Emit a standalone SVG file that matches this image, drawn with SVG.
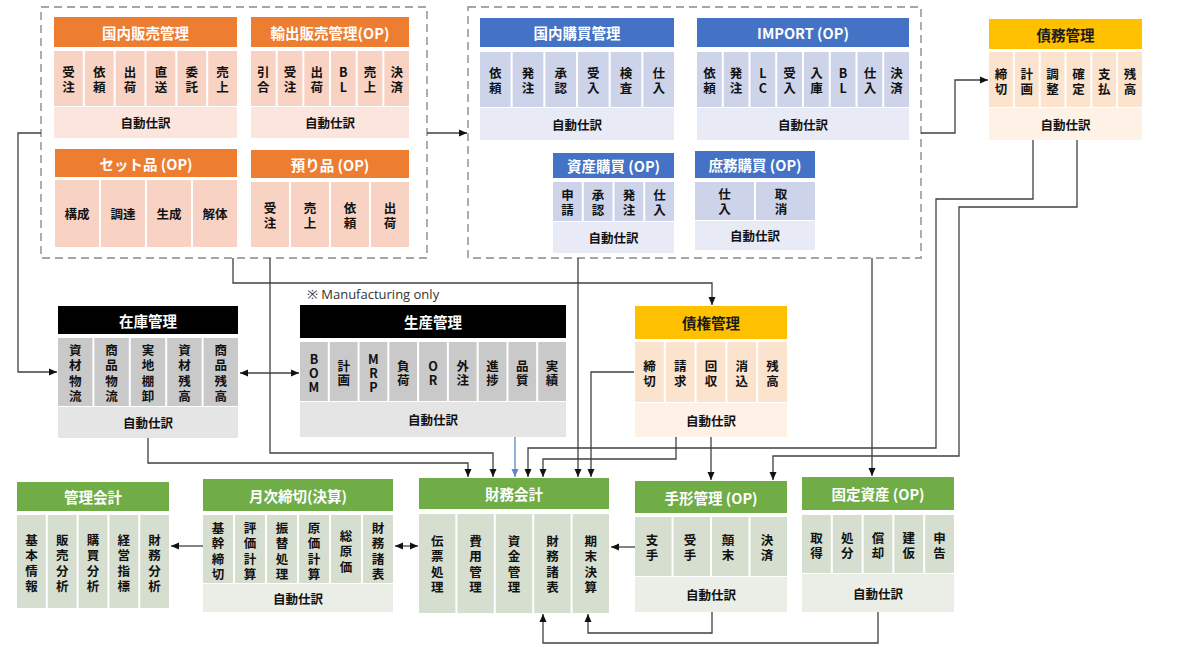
<svg xmlns="http://www.w3.org/2000/svg" width="1180" height="651" viewBox="0 0 1180 651">
<style>
.t{font-family:"Noto Sans CJK JP","Noto Sans",sans-serif;font-weight:700;text-anchor:middle;dominant-baseline:central}
.h{font-size:14.5px;fill:#fff}
.hd{font-size:14.5px;fill:#1a1a1a}
.c{font-size:12.5px;fill:#111}
.a{font-size:12.5px;fill:#111}
.ho{fill:#ED7D31}.co{fill:#F8D3C4}.ao{fill:#FBE5DC}
.hb{fill:#4472C4}.cb{fill:#CDD4EA}.ab{fill:#E8EBF5}
.hy{fill:#FFC000}.cy{fill:#FCE3CD}.ay{fill:#FEF2E6}
.hk{fill:#000}.ck{fill:#C9C9C9}.ak{fill:#E5E5E5}
.hg{fill:#70AD47}.cg{fill:#D6DECF}.ag{fill:#EAEEE6}
.ln{fill:none;stroke:#404040;stroke-width:1.3}
.dash{fill:none;stroke:#A6A6A6;stroke-width:1.8;stroke-dasharray:8 5}
</style>
<defs>
<marker id="ar" markerUnits="userSpaceOnUse" markerWidth="8" markerHeight="8" refX="8" refY="4" orient="auto-start-reverse"><path d="M0,0.5 L8,4 L0,7.5 z" fill="#111"/></marker>
<marker id="arb" markerUnits="userSpaceOnUse" markerWidth="8" markerHeight="8" refX="8" refY="4" orient="auto"><path d="M0,0.5 L8,4 L0,7.5 z" fill="#5B87C8"/></marker>
</defs>
<rect width="1180" height="651" fill="#fff"/>

<rect class="dash" x="41" y="7" width="386" height="251"/>
<rect class="dash" x="468" y="7" width="453" height="251"/>

<g id="connectors">
<path class="ln" d="M427,133 H467" marker-end="url(#ar)"/>
<path class="ln" d="M921,133 H955 V80 H988" marker-end="url(#ar)"/>
<path class="ln" d="M41,133 H18 V372 H57" marker-end="url(#ar)"/>
<path class="ln" d="M240,373 H299" marker-start="url(#ar)" marker-end="url(#ar)"/>
<path class="ln" d="M233,258 V283 H712 V305" marker-end="url(#ar)"/>
<path class="ln" d="M270,258 V453 H493 V477" marker-end="url(#ar)"/>
<path class="ln" d="M148,438 V463 H468 V477" marker-end="url(#ar)"/>
<path d="M515,437 V477" fill="none" stroke="#5B87C8" stroke-width="1.3" marker-end="url(#arb)"/>
<path class="ln" d="M578,258 V477" marker-end="url(#ar)"/>
<path class="ln" d="M634,372 H591 V477" marker-end="url(#ar)"/>
<path class="ln" d="M676,437 V459 H543 V477" marker-end="url(#ar)"/>
<path class="ln" d="M711,437 V480" marker-end="url(#ar)"/>
<path class="ln" d="M1033,140 V199 H936 V448 H528 V477" marker-end="url(#ar)"/>
<path class="ln" d="M1077,140 V207 H959 V456 H773 V480" marker-end="url(#ar)"/>
<path class="ln" d="M872,258 V476" marker-end="url(#ar)"/>
<path class="ln" d="M203,546 H171" marker-end="url(#ar)"/>
<path class="ln" d="M395,546 H418" marker-start="url(#ar)" marker-end="url(#ar)"/>
<path class="ln" d="M635,547 H611" marker-end="url(#ar)"/>
<path class="ln" d="M712,612 V633 H588 V614" marker-end="url(#ar)"/>
<path class="ln" d="M878,612 V643 H543 V614" marker-end="url(#ar)"/>
</g>

<g id="domestic-sales">
<rect class="ho" x="54" y="17" width="183" height="30"/>
<text class="t h" x="145.5" y="32">国内販売管理</text>
<rect class="co" x="54" y="51" width="28.83" height="55"/><rect class="co" x="84.83" y="51" width="28.83" height="55"/><rect class="co" x="115.67" y="51" width="28.83" height="55"/><rect class="co" x="146.5" y="51" width="28.83" height="55"/><rect class="co" x="177.33" y="51" width="28.83" height="55"/><rect class="co" x="208.17" y="51" width="28.83" height="55"/>
<text class="t c"><tspan x="68.4" y="71">受</tspan><tspan x="68.4" y="86">注</tspan></text>
<text class="t c"><tspan x="99.25" y="71">依</tspan><tspan x="99.25" y="86">頼</tspan></text>
<text class="t c"><tspan x="130.1" y="71">出</tspan><tspan x="130.1" y="86">荷</tspan></text>
<text class="t c"><tspan x="160.9" y="71">直</tspan><tspan x="160.9" y="86">送</tspan></text>
<text class="t c"><tspan x="191.75" y="71">委</tspan><tspan x="191.75" y="86">託</tspan></text>
<text class="t c"><tspan x="222.6" y="71">売</tspan><tspan x="222.6" y="86">上</tspan></text>
<rect class="ao" x="54" y="107" width="183" height="31"/>
<text class="t a" x="145.5" y="122.5">自動仕訳</text>
</g>

<g id="export-sales">
<rect class="ho" x="251" y="17" width="158" height="30"/>
<text class="t h" x="330" y="32">輸出販売管理(OP)</text>
<rect class="co" x="251" y="51" width="24.67" height="55"/><rect class="co" x="277.67" y="51" width="24.67" height="55"/><rect class="co" x="304.33" y="51" width="24.67" height="55"/><rect class="co" x="331" y="51" width="24.67" height="55"/><rect class="co" x="357.67" y="51" width="24.67" height="55"/><rect class="co" x="384.33" y="51" width="24.67" height="55"/>
<text class="t c"><tspan x="263.3" y="71">引</tspan><tspan x="263.3" y="86">合</tspan></text>
<text class="t c"><tspan x="290" y="71">受</tspan><tspan x="290" y="86">注</tspan></text>
<text class="t c"><tspan x="316.7" y="71">出</tspan><tspan x="316.7" y="86">荷</tspan></text>
<text class="t c"><tspan x="343.3" y="71">B</tspan><tspan x="343.3" y="86">L</tspan></text>
<text class="t c"><tspan x="370" y="71">売</tspan><tspan x="370" y="86">上</tspan></text>
<text class="t c"><tspan x="396.7" y="71">決</tspan><tspan x="396.7" y="86">済</tspan></text>
<rect class="ao" x="251" y="107" width="158" height="31"/>
<text class="t a" x="330" y="122.5">自動仕訳</text>
</g>

<g id="set-items">
<rect class="ho" x="55" y="149" width="182" height="28"/>
<text class="t h" x="146" y="163">セット品 (OP)</text>
<rect class="co" x="55" y="180" width="44" height="67"/><rect class="co" x="101" y="180" width="44" height="67"/><rect class="co" x="147" y="180" width="44" height="67"/><rect class="co" x="193" y="180" width="44" height="67"/>
<text class="t c" x="77" y="213.5">構成</text>
<text class="t c" x="123" y="213.5">調達</text>
<text class="t c" x="169" y="213.5">生成</text>
<text class="t c" x="215" y="213.5">解体</text>
</g>

<g id="consignment">
<rect class="ho" x="251" y="150" width="158" height="28"/>
<text class="t h" x="330" y="164">預り品 (OP)</text>
<rect class="co" x="251" y="182" width="38" height="65"/><rect class="co" x="291" y="182" width="38" height="65"/><rect class="co" x="331" y="182" width="38" height="65"/><rect class="co" x="371" y="182" width="38" height="65"/>
<text class="t c"><tspan x="270" y="207">受</tspan><tspan x="270" y="222">注</tspan></text>
<text class="t c"><tspan x="310" y="207">売</tspan><tspan x="310" y="222">上</tspan></text>
<text class="t c"><tspan x="350" y="207">依</tspan><tspan x="350" y="222">頼</tspan></text>
<text class="t c"><tspan x="390" y="207">出</tspan><tspan x="390" y="222">荷</tspan></text>
</g>

<g id="domestic-purchase">
<rect class="hb" x="480" y="18" width="194" height="29"/>
<text class="t h" x="577" y="32.5">国内購買管理</text>
<rect class="cb" x="480" y="52" width="30.67" height="55"/><rect class="cb" x="512.67" y="52" width="30.67" height="55"/><rect class="cb" x="545.33" y="52" width="30.67" height="55"/><rect class="cb" x="578" y="52" width="30.67" height="55"/><rect class="cb" x="610.67" y="52" width="30.67" height="55"/><rect class="cb" x="643.33" y="52" width="30.67" height="55"/>
<text class="t c"><tspan x="495.3" y="72">依</tspan><tspan x="495.3" y="87">頼</tspan></text>
<text class="t c"><tspan x="528" y="72">発</tspan><tspan x="528" y="87">注</tspan></text>
<text class="t c"><tspan x="560.7" y="72">承</tspan><tspan x="560.7" y="87">認</tspan></text>
<text class="t c"><tspan x="593.3" y="72">受</tspan><tspan x="593.3" y="87">入</tspan></text>
<text class="t c"><tspan x="626" y="72">検</tspan><tspan x="626" y="87">査</tspan></text>
<text class="t c"><tspan x="658.7" y="72">仕</tspan><tspan x="658.7" y="87">入</tspan></text>
<rect class="ab" x="480" y="108" width="194" height="32"/>
<text class="t a" x="577" y="124">自動仕訳</text>
</g>

<g id="import">
<rect class="hb" x="697" y="18" width="212" height="29"/>
<text class="t h" x="803" y="32.5">IMPORT (OP)</text>
<rect class="cb" x="697" y="52" width="24.75" height="55"/><rect class="cb" x="723.75" y="52" width="24.75" height="55"/><rect class="cb" x="750.5" y="52" width="24.75" height="55"/><rect class="cb" x="777.25" y="52" width="24.75" height="55"/><rect class="cb" x="804" y="52" width="24.75" height="55"/><rect class="cb" x="830.75" y="52" width="24.75" height="55"/><rect class="cb" x="857.5" y="52" width="24.75" height="55"/><rect class="cb" x="884.25" y="52" width="24.75" height="55"/>
<text class="t c"><tspan x="709.4" y="72">依</tspan><tspan x="709.4" y="87">頼</tspan></text>
<text class="t c"><tspan x="736.1" y="72">発</tspan><tspan x="736.1" y="87">注</tspan></text>
<text class="t c"><tspan x="762.9" y="72">L</tspan><tspan x="762.9" y="87">C</tspan></text>
<text class="t c"><tspan x="789.6" y="72">受</tspan><tspan x="789.6" y="87">入</tspan></text>
<text class="t c"><tspan x="816.4" y="72">入</tspan><tspan x="816.4" y="87">庫</tspan></text>
<text class="t c"><tspan x="843.1" y="72">B</tspan><tspan x="843.1" y="87">L</tspan></text>
<text class="t c"><tspan x="869.9" y="72">仕</tspan><tspan x="869.9" y="87">入</tspan></text>
<text class="t c"><tspan x="896.6" y="72">決</tspan><tspan x="896.6" y="87">済</tspan></text>
<rect class="ab" x="697" y="108" width="212" height="32"/>
<text class="t a" x="803" y="124">自動仕訳</text>
</g>

<g id="asset-purchase">
<rect class="hb" x="553" y="153" width="121" height="25"/>
<text class="t h" x="613.5" y="165.5">資産購買 (OP)</text>
<rect class="cb" x="553" y="182" width="28.75" height="39"/><rect class="cb" x="583.75" y="182" width="28.75" height="39"/><rect class="cb" x="614.5" y="182" width="28.75" height="39"/><rect class="cb" x="645.25" y="182" width="28.75" height="39"/>
<text class="t c"><tspan x="567.4" y="193.5">申</tspan><tspan x="567.4" y="208.5">請</tspan></text>
<text class="t c"><tspan x="598.1" y="193.5">承</tspan><tspan x="598.1" y="208.5">認</tspan></text>
<text class="t c"><tspan x="628.9" y="193.5">発</tspan><tspan x="628.9" y="208.5">注</tspan></text>
<text class="t c"><tspan x="659.6" y="193.5">仕</tspan><tspan x="659.6" y="208.5">入</tspan></text>
<rect class="ab" x="553" y="222" width="121" height="31"/>
<text class="t a" x="613.5" y="237.5">自動仕訳</text>
</g>

<g id="general-purchase">
<rect class="hb" x="695" y="151" width="120" height="27"/>
<text class="t h" x="755" y="164.5">庶務購買 (OP)</text>
<rect class="cb" x="695" y="182" width="59" height="38"/><rect class="cb" x="756" y="182" width="59" height="38"/>
<text class="t c"><tspan x="724.5" y="192.5">仕</tspan><tspan x="724.5" y="207.5">入</tspan></text>
<text class="t c"><tspan x="781" y="192.5">取</tspan><tspan x="781" y="207.5">消</tspan></text>
<rect class="ab" x="695" y="221" width="120" height="29"/>
<text class="t a" x="755" y="235.5">自動仕訳</text>
</g>

<g id="payables">
<rect class="hy" x="989" y="19" width="153" height="30"/>
<text class="t hd" x="1065.5" y="34">債務管理</text>
<rect class="cy" x="989" y="52" width="23.83" height="55"/><rect class="cy" x="1014.83" y="52" width="23.83" height="55"/><rect class="cy" x="1040.67" y="52" width="23.83" height="55"/><rect class="cy" x="1066.5" y="52" width="23.83" height="55"/><rect class="cy" x="1092.33" y="52" width="23.83" height="55"/><rect class="cy" x="1118.17" y="52" width="23.83" height="55"/>
<text class="t c"><tspan x="1000.9" y="72.5">締</tspan><tspan x="1000.9" y="87.5">切</tspan></text>
<text class="t c"><tspan x="1026.75" y="72.5">計</tspan><tspan x="1026.75" y="87.5">画</tspan></text>
<text class="t c"><tspan x="1052.6" y="72.5">調</tspan><tspan x="1052.6" y="87.5">整</tspan></text>
<text class="t c"><tspan x="1078.4" y="72.5">確</tspan><tspan x="1078.4" y="87.5">定</tspan></text>
<text class="t c"><tspan x="1104.25" y="72.5">支</tspan><tspan x="1104.25" y="87.5">払</tspan></text>
<text class="t c"><tspan x="1130.1" y="72.5">残</tspan><tspan x="1130.1" y="87.5">高</tspan></text>
<rect class="ay" x="989" y="108" width="153" height="32"/>
<text class="t a" x="1065.5" y="124">自動仕訳</text>
</g>

<g id="inventory">
<rect class="hk" x="58" y="306" width="180" height="28"/>
<text class="t h" x="148" y="320">在庫管理</text>
<rect class="ck" x="58" y="338" width="34.4" height="68"/><rect class="ck" x="94.4" y="338" width="34.4" height="68"/><rect class="ck" x="130.8" y="338" width="34.4" height="68"/><rect class="ck" x="167.2" y="338" width="34.4" height="68"/><rect class="ck" x="203.6" y="338" width="34.4" height="68"/>
<text class="t c"><tspan x="75.2" y="348.75">資</tspan><tspan x="75.2" y="364.25">材</tspan><tspan x="75.2" y="379.75">物</tspan><tspan x="75.2" y="395.25">流</tspan></text>
<text class="t c"><tspan x="111.6" y="348.75">商</tspan><tspan x="111.6" y="364.25">品</tspan><tspan x="111.6" y="379.75">物</tspan><tspan x="111.6" y="395.25">流</tspan></text>
<text class="t c"><tspan x="148" y="348.75">実</tspan><tspan x="148" y="364.25">地</tspan><tspan x="148" y="379.75">棚</tspan><tspan x="148" y="395.25">卸</tspan></text>
<text class="t c"><tspan x="184.4" y="348.75">資</tspan><tspan x="184.4" y="364.25">材</tspan><tspan x="184.4" y="379.75">残</tspan><tspan x="184.4" y="395.25">高</tspan></text>
<text class="t c"><tspan x="220.8" y="348.75">商</tspan><tspan x="220.8" y="364.25">品</tspan><tspan x="220.8" y="379.75">残</tspan><tspan x="220.8" y="395.25">高</tspan></text>
<rect class="ak" x="58" y="407" width="180" height="31"/>
<text class="t a" x="148" y="422.5">自動仕訳</text>
</g>

<g id="production">
<text x="307" y="299" font-family="'Open Sans','Noto Sans','Noto Sans CJK JP',sans-serif" font-size="13" fill="#333">※ Manufacturing only</text>
<rect class="hk" x="300" y="305" width="266" height="33"/>
<text class="t h" x="433" y="321.5">生産管理</text>
<rect class="ck" x="300" y="342" width="27.78" height="59"/><rect class="ck" x="329.78" y="342" width="27.78" height="59"/><rect class="ck" x="359.56" y="342" width="27.78" height="59"/><rect class="ck" x="389.33" y="342" width="27.78" height="59"/><rect class="ck" x="419.11" y="342" width="27.78" height="59"/><rect class="ck" x="448.89" y="342" width="27.78" height="59"/><rect class="ck" x="478.67" y="342" width="27.78" height="59"/><rect class="ck" x="508.44" y="342" width="27.78" height="59"/><rect class="ck" x="538.22" y="342" width="27.78" height="59"/>
<text class="t c"><tspan x="313.9" y="357.5">B</tspan><tspan x="313.9" y="371.5">O</tspan><tspan x="313.9" y="385.5">M</tspan></text>
<text class="t c"><tspan x="343.7" y="364.5">計</tspan><tspan x="343.7" y="378.5">画</tspan></text>
<text class="t c"><tspan x="373.4" y="357.5">M</tspan><tspan x="373.4" y="371.5">R</tspan><tspan x="373.4" y="385.5">P</tspan></text>
<text class="t c"><tspan x="403.2" y="364.5">負</tspan><tspan x="403.2" y="378.5">荷</tspan></text>
<text class="t c"><tspan x="433" y="364.5">O</tspan><tspan x="433" y="378.5">R</tspan></text>
<text class="t c"><tspan x="462.8" y="364.5">外</tspan><tspan x="462.8" y="378.5">注</tspan></text>
<text class="t c"><tspan x="492.6" y="364.5">進</tspan><tspan x="492.6" y="378.5">捗</tspan></text>
<text class="t c"><tspan x="522.3" y="364.5">品</tspan><tspan x="522.3" y="378.5">質</tspan></text>
<text class="t c"><tspan x="552.1" y="364.5">実</tspan><tspan x="552.1" y="378.5">績</tspan></text>
<rect class="ak" x="300" y="402" width="266" height="35"/>
<text class="t a" x="433" y="419.5">自動仕訳</text>
</g>

<g id="receivables">
<rect class="hy" x="635" y="306" width="152" height="33"/>
<text class="t hd" x="711" y="322.5">債権管理</text>
<rect class="cy" x="635" y="342" width="28.8" height="60"/><rect class="cy" x="665.8" y="342" width="28.8" height="60"/><rect class="cy" x="696.6" y="342" width="28.8" height="60"/><rect class="cy" x="727.4" y="342" width="28.8" height="60"/><rect class="cy" x="758.2" y="342" width="28.8" height="60"/>
<text class="t c"><tspan x="649.4" y="365">締</tspan><tspan x="649.4" y="380">切</tspan></text>
<text class="t c"><tspan x="680.2" y="365">請</tspan><tspan x="680.2" y="380">求</tspan></text>
<text class="t c"><tspan x="711" y="365">回</tspan><tspan x="711" y="380">収</tspan></text>
<text class="t c"><tspan x="741.8" y="365">消</tspan><tspan x="741.8" y="380">込</tspan></text>
<text class="t c"><tspan x="772.6" y="365">残</tspan><tspan x="772.6" y="380">高</tspan></text>
<rect class="ay" x="635" y="403" width="152" height="34"/>
<text class="t a" x="711" y="420">自動仕訳</text>
</g>

<g id="management-accounting">
<rect class="hg" x="17" y="482" width="152" height="29"/>
<text class="t h" x="93" y="496.5">管理会計</text>
<rect class="cg" x="17" y="515" width="28.8" height="93"/><rect class="cg" x="47.8" y="515" width="28.8" height="93"/><rect class="cg" x="78.6" y="515" width="28.8" height="93"/><rect class="cg" x="109.4" y="515" width="28.8" height="93"/><rect class="cg" x="140.2" y="515" width="28.8" height="93"/>
<text class="t c"><tspan x="31.4" y="538.75">基</tspan><tspan x="31.4" y="554.25">本</tspan><tspan x="31.4" y="569.75">情</tspan><tspan x="31.4" y="585.25">報</tspan></text>
<text class="t c"><tspan x="62.2" y="538.75">販</tspan><tspan x="62.2" y="554.25">売</tspan><tspan x="62.2" y="569.75">分</tspan><tspan x="62.2" y="585.25">析</tspan></text>
<text class="t c"><tspan x="93" y="538.75">購</tspan><tspan x="93" y="554.25">買</tspan><tspan x="93" y="569.75">分</tspan><tspan x="93" y="585.25">析</tspan></text>
<text class="t c"><tspan x="123.8" y="538.75">経</tspan><tspan x="123.8" y="554.25">営</tspan><tspan x="123.8" y="569.75">指</tspan><tspan x="123.8" y="585.25">標</tspan></text>
<text class="t c"><tspan x="154.6" y="538.75">財</tspan><tspan x="154.6" y="554.25">務</tspan><tspan x="154.6" y="569.75">分</tspan><tspan x="154.6" y="585.25">析</tspan></text>
</g>

<g id="monthly-closing">
<rect class="hg" x="203" y="479" width="190" height="32"/>
<text class="t h" x="298" y="495">月次締切(決算)</text>
<rect class="cg" x="203" y="515" width="30" height="68"/><rect class="cg" x="235" y="515" width="30" height="68"/><rect class="cg" x="267" y="515" width="30" height="68"/><rect class="cg" x="299" y="515" width="30" height="68"/><rect class="cg" x="331" y="515" width="30" height="68"/><rect class="cg" x="363" y="515" width="30" height="68"/>
<text class="t c"><tspan x="218" y="526.75">基</tspan><tspan x="218" y="542.25">幹</tspan><tspan x="218" y="557.75">締</tspan><tspan x="218" y="573.25">切</tspan></text>
<text class="t c"><tspan x="250" y="526.75">評</tspan><tspan x="250" y="542.25">価</tspan><tspan x="250" y="557.75">計</tspan><tspan x="250" y="573.25">算</tspan></text>
<text class="t c"><tspan x="282" y="526.75">振</tspan><tspan x="282" y="542.25">替</tspan><tspan x="282" y="557.75">処</tspan><tspan x="282" y="573.25">理</tspan></text>
<text class="t c"><tspan x="314" y="526.75">原</tspan><tspan x="314" y="542.25">価</tspan><tspan x="314" y="557.75">計</tspan><tspan x="314" y="573.25">算</tspan></text>
<text class="t c"><tspan x="346" y="534.5">総</tspan><tspan x="346" y="550">原</tspan><tspan x="346" y="565.5">価</tspan></text>
<text class="t c"><tspan x="378" y="526.75">財</tspan><tspan x="378" y="542.25">務</tspan><tspan x="378" y="557.75">諸</tspan><tspan x="378" y="573.25">表</tspan></text>
<rect class="ag" x="203" y="584" width="190" height="28"/>
<text class="t a" x="298" y="598">自動仕訳</text>
</g>

<g id="financial-accounting">
<rect class="hg" x="419" y="478" width="190" height="31"/>
<text class="t h" x="514" y="493.5">財務会計</text>
<rect class="cg" x="419" y="514" width="36.4" height="99"/><rect class="cg" x="457.4" y="514" width="36.4" height="99"/><rect class="cg" x="495.8" y="514" width="36.4" height="99"/><rect class="cg" x="534.2" y="514" width="36.4" height="99"/><rect class="cg" x="572.6" y="514" width="36.4" height="99"/>
<text class="t c"><tspan x="437.2" y="539.75">伝</tspan><tspan x="437.2" y="555.25">票</tspan><tspan x="437.2" y="570.75">処</tspan><tspan x="437.2" y="586.25">理</tspan></text>
<text class="t c"><tspan x="475.6" y="539.75">費</tspan><tspan x="475.6" y="555.25">用</tspan><tspan x="475.6" y="570.75">管</tspan><tspan x="475.6" y="586.25">理</tspan></text>
<text class="t c"><tspan x="514" y="539.75">資</tspan><tspan x="514" y="555.25">金</tspan><tspan x="514" y="570.75">管</tspan><tspan x="514" y="586.25">理</tspan></text>
<text class="t c"><tspan x="552.4" y="539.75">財</tspan><tspan x="552.4" y="555.25">務</tspan><tspan x="552.4" y="570.75">諸</tspan><tspan x="552.4" y="586.25">表</tspan></text>
<text class="t c"><tspan x="590.8" y="539.75">期</tspan><tspan x="590.8" y="555.25">末</tspan><tspan x="590.8" y="570.75">決</tspan><tspan x="590.8" y="586.25">算</tspan></text>
</g>

<g id="notes">
<rect class="hg" x="635" y="481" width="152" height="32"/>
<text class="t h" x="711" y="497">手形管理 (OP)</text>
<rect class="cg" x="635" y="517" width="36.5" height="59"/><rect class="cg" x="673.5" y="517" width="36.5" height="59"/><rect class="cg" x="712" y="517" width="36.5" height="59"/><rect class="cg" x="750.5" y="517" width="36.5" height="59"/>
<text class="t c"><tspan x="652" y="539">支</tspan><tspan x="652" y="554">手</tspan></text>
<text class="t c"><tspan x="690" y="539">受</tspan><tspan x="690" y="554">手</tspan></text>
<text class="t c"><tspan x="728" y="539">顛</tspan><tspan x="728" y="554">末</tspan></text>
<text class="t c"><tspan x="767" y="539">決</tspan><tspan x="767" y="554">済</tspan></text>
<rect class="ag" x="635" y="577" width="152" height="35"/>
<text class="t a" x="711" y="594.5">自動仕訳</text>
</g>

<g id="fixed-assets">
<rect class="hg" x="802" y="477" width="152" height="33"/>
<text class="t h" x="878" y="493.5">固定資産 (OP)</text>
<rect class="cg" x="802" y="515" width="28.8" height="58"/><rect class="cg" x="832.8" y="515" width="28.8" height="58"/><rect class="cg" x="863.6" y="515" width="28.8" height="58"/><rect class="cg" x="894.4" y="515" width="28.8" height="58"/><rect class="cg" x="925.2" y="515" width="28.8" height="58"/>
<text class="t c"><tspan x="816.4" y="537">取</tspan><tspan x="816.4" y="552">得</tspan></text>
<text class="t c"><tspan x="847.2" y="537">処</tspan><tspan x="847.2" y="552">分</tspan></text>
<text class="t c"><tspan x="878" y="537">償</tspan><tspan x="878" y="552">却</tspan></text>
<text class="t c"><tspan x="908.8" y="537">建</tspan><tspan x="908.8" y="552">仮</tspan></text>
<text class="t c"><tspan x="939.6" y="537">申</tspan><tspan x="939.6" y="552">告</tspan></text>
<rect class="ag" x="802" y="574" width="152" height="38"/>
<text class="t a" x="878" y="593">自動仕訳</text>
</g>
</svg>
